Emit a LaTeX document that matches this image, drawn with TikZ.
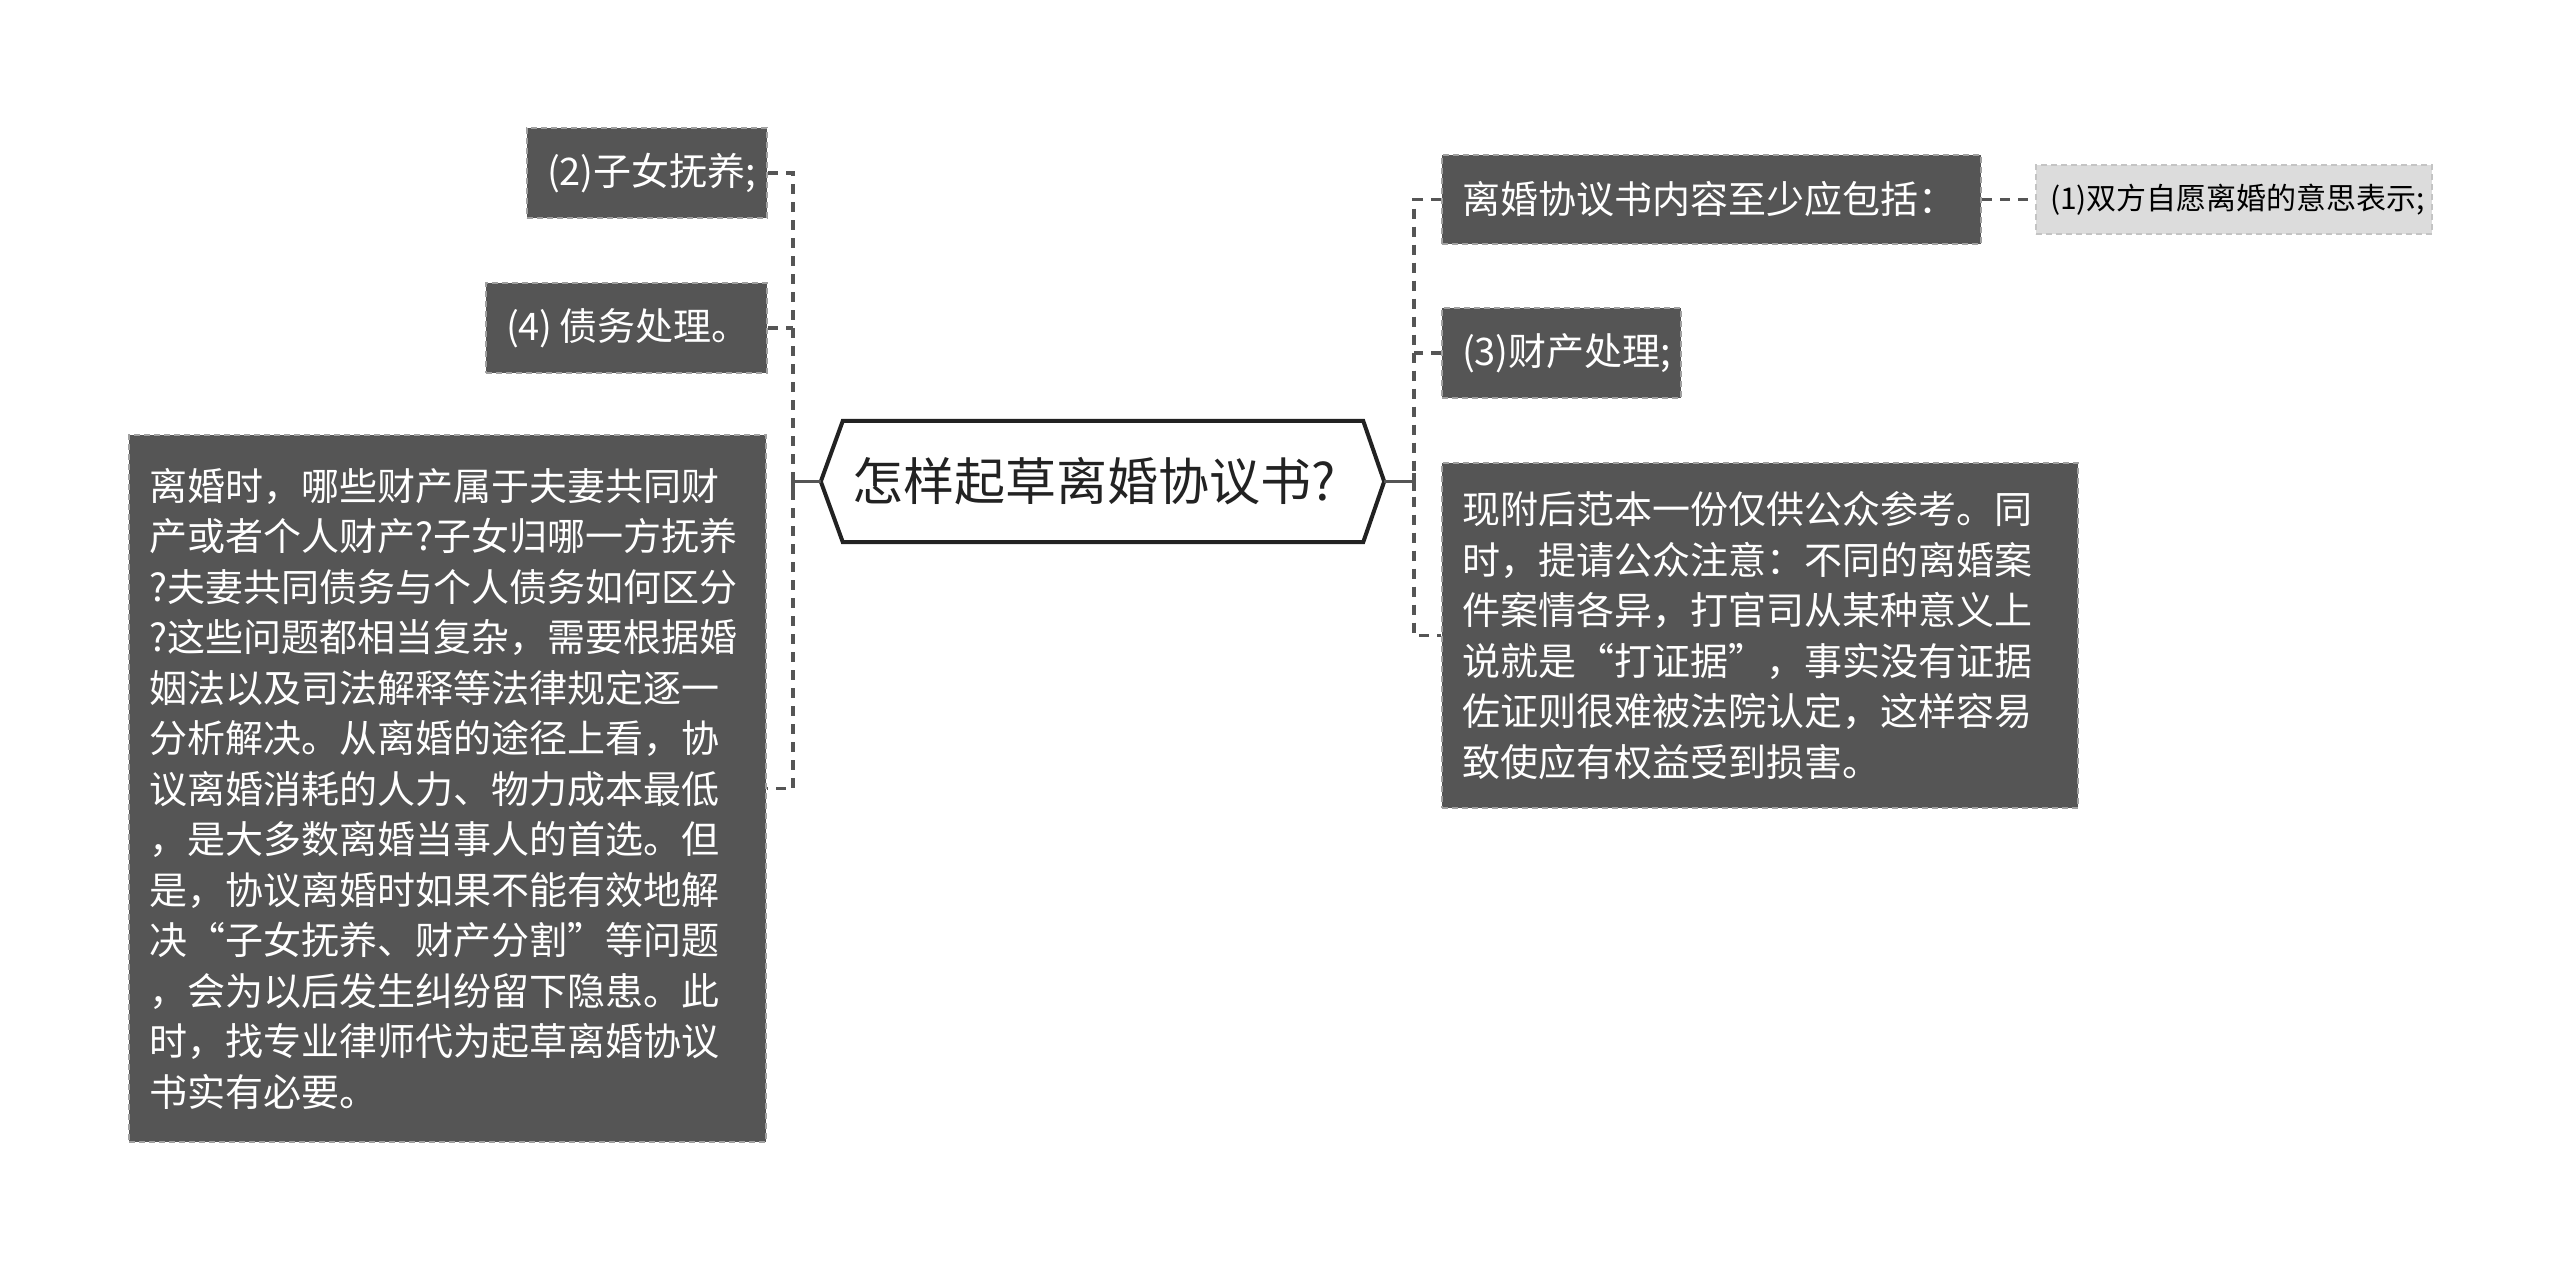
\documentclass[tikz,border=0pt]{standalone}
\usepackage{fontspec}
\newfontfamily\cjk{Noto Sans CJK SC}
\newcommand\myBody{\cjk\fontsize{38}{50.5}\selectfont}
\newcommand\mySmall{\cjk\fontsize{30}{38}\selectfont}
\newcommand\myTitle{\cjk\fontsize{51}{60}\selectfont}
\definecolor{boxgray}{HTML}{555555}
\definecolor{bordergray}{HTML}{A0A0A0}
\definecolor{conngray}{HTML}{555555}
\definecolor{lightfill}{HTML}{DCDCDC}
\definecolor{lightborder}{HTML}{C4C4C4}
\definecolor{hexline}{HTML}{222222}
\tikzset{
  dbox/.style={fill=boxgray, draw=bordergray, dash pattern=on 6pt off 4pt, line width=2pt,
    text=white, font=\myBody, inner xsep=20pt, inner ysep=0pt, align=left, anchor=north west},
  lbox/.style={fill=lightfill, draw=lightborder, dash pattern=on 6pt off 4pt, line width=2pt,
    text=black, font=\mySmall, inner xsep=14pt, inner ysep=0pt, align=left, anchor=north west},
  conn/.style={draw=conngray, line width=3.5pt, dash pattern=on 10pt off 8pt},
  solidc/.style={draw=conngray, line width=3.5pt},
  hexstroke/.style={draw=hexline, line width=4pt, fill=white, line join=miter}
}
\begin{document}
\begin{tikzpicture}[x=1pt, y=-1pt]
\useasboundingbox (0,0) rectangle (2560,1270);
\fill[white] (0,0) rectangle (2560,1270);

% root
\node[minimum width=563pt, minimum height=121pt, inner sep=0pt] (root) at (1102.5,481.5) {};
\draw[hexstroke] (root.west) -- ([xshift=22pt]root.north west) -- ([xshift=-21pt]root.north east)
  -- (root.east) -- ([xshift=-21pt]root.south east) -- ([xshift=22pt]root.south west) -- cycle;
\node[font=\myTitle, text=hexline, inner sep=0pt] (title) at ([xshift=-8pt]root.center) {怎样起草离婚协议书?};

% left nodes
\node[dbox, text width=200pt, minimum height=90pt] (L1) at (526,127) {\mbox{(2)子女抚养;}};
\node[dbox, text width=241pt, minimum height=90pt] (L2) at (485,282) {\mbox{(4)\hspace{7pt}债务处理。}};
\node[dbox, text width=597pt, minimum height=707pt] (L3) at (128,434) {离婚时，哪些财产属于夫妻共同财\\
产或者个人财产?子女归哪一方抚养\\
?夫妻共同债务与个人债务如何区分\\
?这些问题都相当复杂，需要根据婚\\
姻法以及司法解释等法律规定逐一\\
分析解决。从离婚的途径上看，协\\
议离婚消耗的人力、物力成本最低\\
，是大多数离婚当事人的首选。但\\
是，协议离婚时如果不能有效地解\\
决“子女抚养、财产分割”等问题\\
，会为以后发生纠纷留下隐患。此\\
时，找专业律师代为起草离婚协议\\
书实有必要。};

% right nodes
\node[dbox, text width=499pt, minimum height=89pt] (R1) at (1441,154) {\mbox{离婚协议书内容至少应包括：}};
\node[lbox, text width=368pt, minimum height=69pt] (R1a) at (2035,164) {\mbox{(1)双方自愿离婚的意思表示;}};
\node[dbox, text width=199pt, minimum height=90pt] (R2) at (1441,307) {\mbox{(3)财产处理;}};
\node[dbox, text width=596pt, minimum height=345pt] (R3) at (1441,462) {现附后范本一份仅供公众参考。同\\
时，提请公众注意：不同的离婚案\\
件案情各异，打官司从某种意义上\\
说就是“打证据”，事实没有证据\\
佐证则很难被法院认定，这样容易\\
致使应有权益受到损害。};

% trunk references
\coordinate (lt) at (793,0);
\coordinate (rt) at (1414,0);

% left connectors
\draw[conn] (L1.east) -- (L1.east -| lt) -- (L3.east -| lt) -- (L3.east);
\draw[conn] (L2.east) -- (L2.east -| lt);
\draw[solidc] (root.west) -- (root.west -| lt);
\draw[solidc] ([yshift=-9pt]root.west -| lt) -- ([yshift=9pt]root.west -| lt);

% right connectors
\draw[conn] (R1.west) -- (R1.west -| rt) -- (R3.west -| rt) -- (R3.west);
\draw[conn] (R2.west) -- (R2.west -| rt);
\draw[solidc] (root.east) -- (root.east -| rt);
\draw[solidc] ([yshift=-9pt]root.east -| rt) -- ([yshift=9pt]root.east -| rt);
\draw[conn] (R1.east) -- (R1a.west);
\end{tikzpicture}
\end{document}
